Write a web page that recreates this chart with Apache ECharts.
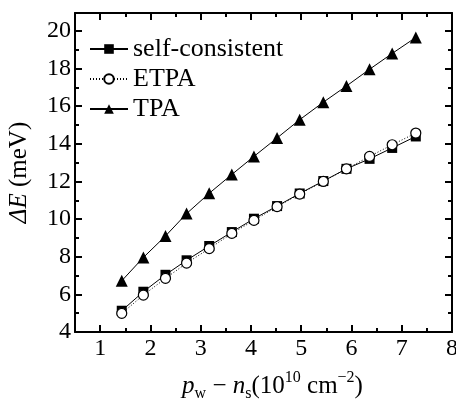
<!DOCTYPE html>
<html>
<head>
<meta charset="utf-8">
<script src="https://cdn.jsdelivr.net/npm/echarts@6/dist/echarts.min.js"></script>
<style>
  html, body { margin: 0; padding: 0; background: #fff; }
  #chart { width: 456px; height: 400px; }
</style>
</head>
<body>
<div id="chart"></div>
<script>
// Carrier density difference p_w - n_s (10^10 cm^-2)
const density = [1.43, 1.86, 2.30, 2.72, 3.17, 3.62, 4.06, 4.52, 4.97, 5.44, 5.90, 6.36, 6.81, 7.28];
// Energy splitting ΔE (meV) for the three approximations
const selfConsistent = [5.13, 6.14, 7.04, 7.81, 8.57, 9.31, 10.02, 10.69, 11.36, 12.02, 12.67, 13.20, 13.78, 14.39];
const etpa = [4.99, 5.96, 6.85, 7.66, 8.43, 9.24, 9.93, 10.66, 11.33, 12.00, 12.67, 13.33, 13.95, 14.57];
const tpa = [6.72, 7.96, 9.10, 10.29, 11.37, 12.37, 13.33, 14.31, 15.28, 16.21, 17.07, 17.96, 18.80, 19.65];

// Tick positions
const xMajorTicks = [1, 2, 3, 4, 5, 6, 7, 8];
const yMajorTicks = [4, 6, 8, 10, 12, 14, 16, 18, 20];

const FONT = 'Liberation Serif';
const X_MIN = 0.5, X_MAX = 8, Y_MIN = 4, Y_MAX = 20.95;

const pairs = ys => density.map((x, i) => [x, ys[i]]);

// serif label style applied through rich text
const serif = size => ({ fontFamily: FONT, fontSize: size, color: '#000' });
const tickLabel = size => ({
  formatter: v => '{t|' + v + '}',
  rich: { t: serif(size) }
});

function xAxisPair(position, withLabels) {
  const major = {
    type: 'value', position, min: X_MIN, max: X_MAX,
    axisLine: { show: true, onZero: false, lineStyle: { color: '#000', width: 2 } },
    axisTick: { show: true, inside: true, length: 7, customValues: xMajorTicks,
                lineStyle: { color: '#000', width: 2 } },
    axisLabel: Object.assign({ show: withLabels, customValues: xMajorTicks, margin: 5 }, tickLabel(24)),
    splitLine: { show: false }
  };
  const minor = {
    type: 'value', position, min: X_MIN, max: X_MAX, interval: 0.5,
    axisLine: { show: false, onZero: false },
    axisTick: { show: true, inside: true, length: 4, lineStyle: { color: '#000', width: 2 } },
    axisLabel: { show: false },
    splitLine: { show: false }
  };
  return [major, minor];
}

function yAxisPair(position, withLabels) {
  const major = {
    type: 'value', position, min: Y_MIN, max: Y_MAX,
    axisLine: { show: true, onZero: false, lineStyle: { color: '#000', width: 2 } },
    axisTick: { show: true, inside: true, length: 7, customValues: yMajorTicks,
                lineStyle: { color: '#000', width: 2 } },
    axisLabel: Object.assign({ show: withLabels, customValues: yMajorTicks, margin: 4 }, tickLabel(24)),
    splitLine: { show: false }
  };
  const minor = {
    type: 'value', position, min: Y_MIN, max: Y_MAX, interval: 1,
    axisLine: { show: false, onZero: false },
    axisTick: { show: true, inside: true, length: 4, lineStyle: { color: '#000', width: 2 } },
    axisLabel: { show: false },
    splitLine: { show: false }
  };
  return [major, minor];
}

const xAxes = [...xAxisPair('bottom', true), ...xAxisPair('top', false)];
const yAxes = [...yAxisPair('left', true), ...yAxisPair('right', false)];

// Axis titles with italic symbols, subscripts and superscripts
xAxes[0].name = '{i|p}{sub|w}{n| − }{i|n}{sub|s}{n|(10}{sup|10}{n| cm}{sup|−2}{n|)}';
xAxes[0].nameLocation = 'middle';
xAxes[0].nameGap = 38;
xAxes[0].nameTextStyle = {
  fontFamily: FONT, color: '#000', padding: [0, 0, 0, 18],
  rich: {
    n: { fontFamily: FONT, fontSize: 25, lineHeight: 32, color: '#000', verticalAlign: 'middle' },
    i: { fontFamily: FONT, fontSize: 25, lineHeight: 32, fontStyle: 'italic', color: '#000', verticalAlign: 'middle' },
    sub: { fontFamily: FONT, fontSize: 16, lineHeight: 12, color: '#000', verticalAlign: 'bottom' },
    sup: { fontFamily: FONT, fontSize: 16, lineHeight: 14, color: '#000', verticalAlign: 'top' }
  }
};

yAxes[0].name = '{i|ΔE}{n| (meV)}';
yAxes[0].nameLocation = 'middle';
yAxes[0].nameGap = 43;
yAxes[0].nameTextStyle = {
  fontFamily: FONT, color: '#000',
  rich: {
    n: { fontFamily: FONT, fontSize: 25, color: '#000' },
    i: { fontFamily: FONT, fontSize: 25, fontStyle: 'italic', color: '#000' }
  }
};

const chart = echarts.init(document.getElementById('chart'), null, { renderer: 'canvas' });
chart.setOption({
  animation: false,
  backgroundColor: '#fff',
  textStyle: { fontFamily: FONT, color: '#000' },
  grid: { left: 75, right: 4, top: 13, bottom: 68, containLabel: false, outerBoundsMode: 'none' },
  legend: {
    orient: 'vertical', left: 84, top: 31,
    itemWidth: 38, itemHeight: 12, itemGap: 4,
    formatter: name => '{t|' + name + '}',
    textStyle: { fontFamily: FONT, fontSize: 26, color: '#000', rich: { t: serif(26) } },
    data: ['self-consistent', 'ETPA', 'TPA']
  },
  xAxis: xAxes,
  yAxis: yAxes,
  series: [
    {
      name: 'self-consistent', type: 'line', xAxisIndex: 0, yAxisIndex: 0,
      data: pairs(selfConsistent),
      symbol: 'rect', symbolSize: 10,
      lineStyle: { color: '#000', width: 1 },
      itemStyle: { color: '#000', borderColor: '#000', borderWidth: 0 },
      z: 2
    },
    {
      name: 'ETPA', type: 'line', xAxisIndex: 0, yAxisIndex: 0,
      data: pairs(etpa),
      symbol: 'circle', symbolSize: 10,
      lineStyle: { color: '#000', width: 1, type: [1, 2] },
      itemStyle: { color: '#fff', borderColor: '#000', borderWidth: 1.2 },
      z: 3
    },
    {
      name: 'TPA', type: 'line', xAxisIndex: 0, yAxisIndex: 0,
      data: pairs(tpa),
      symbol: 'triangle', symbolSize: 12,
      lineStyle: { color: '#000', width: 1 },
      itemStyle: { color: '#000', borderColor: '#000', borderWidth: 0 },
      z: 2
    }
  ]
});
</script>
</body>
</html>
